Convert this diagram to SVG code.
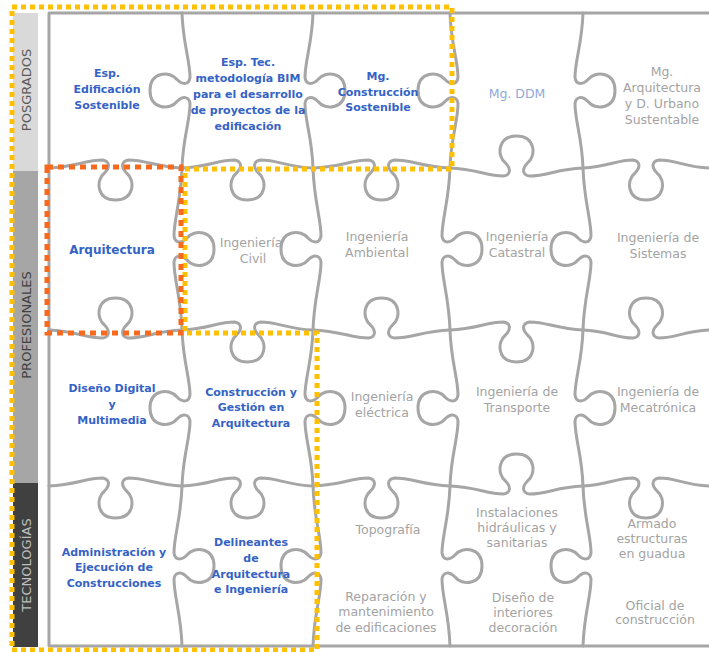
<svg xmlns="http://www.w3.org/2000/svg" width="709" height="652" viewBox="0 0 709 652">
<style>
.edge{fill:none;stroke:#a6a6a6;stroke-width:3;stroke-linecap:round;stroke-linejoin:round}
.b{font-family:"DejaVu Sans",sans-serif;font-weight:bold;font-size:11px;fill:#3563c5;text-anchor:middle}
.g{font-family:"DejaVu Sans",sans-serif;font-size:12.5px;fill:#a3a3a3;text-anchor:middle}
.side{font-family:"DejaVu Sans",sans-serif;font-size:13px;text-anchor:middle}
.yel{fill:none;stroke:#ffc000;stroke-width:5;stroke-dasharray:5 4}
.ora{fill:none;stroke:#f7691c;stroke-width:5;stroke-dasharray:6 5}
</style>
<rect width="709" height="652" fill="#ffffff"/>

<g id="side-bars">
  <g id="bar-posgrados">
    <rect x="13" y="13" width="25" height="158" fill="#d9d9d9"/>
    <text class="side" fill="#595959" transform="translate(30.5,90) rotate(-90)">POSGRADOS</text>
  </g>
  <g id="bar-profesionales">
    <rect x="13" y="171" width="25" height="312" fill="#a6a6a6"/>
    <text class="side" fill="#404040" transform="translate(30.5,325) rotate(-90)">PROFESIONALES</text>
  </g>
  <g id="bar-tecnologias">
    <rect x="13" y="483" width="25" height="164" fill="#404040"/>
    <text class="side" fill="#bfbfbf" transform="translate(30.5,565) rotate(-90)">TECNOLOGÍAS</text>
  </g>
</g>

<g id="puzzle-lines">
  <path class="edge" d="M49,13 H709 M49,646 H709 M49,13 V646"/>
  <!-- horizontal boundaries -->
  <path class="edge" d="M49,168 c26.6,-1 36.5,-8 53.5,-8 c7,1 8,7 2,13 c-9,7 -8,27 11,27 c19,0 20,-20 11,-27 c-6,-6 -5,-12 2,-13 c18,0 26.9,7 53.5,8
   c26.2,-1 35.5,-8 52.5,-8 c7,1 8,7 2,13 c-9,7 -8,27 11,27 c19,0 20,-20 11,-27 c-6,-6 -5,-12 2,-13 c18,0 26.3,7 52.5,8
   c27.4,-1 38.5,-8 55.5,-8 c7,1 8,7 2,13 c-9,7 -8,27 11,27 c19,0 20,-20 11,-27 c-6,-6 -5,-12 2,-13 c18,0 28.1,7 55.5,8
   c26.6,1 36.5,8 53.5,8 c7,-1 8,-7 2,-13 c-9,-7 -8,-27 11,-27 c19,0 20,20 11,27 c-6,6 -5,12 2,13 c18,0 26.9,-7 53.5,-8
   c25.2,-1 33,-8 50,-8 c7,1 8,7 2,13 c-9,7 -8,27 11,27 c19,0 20,-20 11,-27 c-6,-6 -5,-12 2,-13 c18,0 24.8,7 50,8"/>
  <path class="edge" d="M49,330 c26.6,1 36.5,8 53.5,8 c7,-1 8,-7 2,-13 c-9,-7 -8,-27 11,-27 c19,0 20,20 11,27 c-6,6 -5,12 2,13 c18,0 26.9,-7 53.5,-8
   c26.2,-1 35.5,-8 52.5,-8 c7,1 8,7 2,13 c-9,7 -8,27 11,27 c19,0 20,-20 11,-27 c-6,-6 -5,-12 2,-13 c18,0 26.3,7 52.5,8
   c27.4,1 38.5,8 55.5,8 c7,-1 8,-7 2,-13 c-9,-7 -8,-27 11,-27 c19,0 20,20 11,27 c-6,6 -5,12 2,13 c18,0 28.1,-7 55.5,-8
   c26.6,-1 36.5,-8 53.5,-8 c7,1 8,7 2,13 c-9,7 -8,27 11,27 c19,0 20,-20 11,-27 c-6,-6 -5,-12 2,-13 c18,0 26.9,7 53.5,8
   c25.2,1 33,8 50,8 c7,-1 8,-7 2,-13 c-9,-7 -8,-27 11,-27 c19,0 20,20 11,27 c-6,6 -5,12 2,13 c18,0 24.8,-7 50,-8"/>
  <path class="edge" d="M49,486 c26.6,-1 36.5,-8 53.5,-8 c7,1 8,7 2,13 c-9,7 -8,27 11,27 c19,0 20,-20 11,-27 c-6,-6 -5,-12 2,-13 c18,0 26.9,7 53.5,8
   c26.2,-1 35.5,-8 52.5,-8 c7,1 8,7 2,13 c-9,7 -8,27 11,27 c19,0 20,-20 11,-27 c-6,-6 -5,-12 2,-13 c18,0 26.3,7 52.5,8
   c27.4,-1 38.5,-8 55.5,-8 c7,1 8,7 2,13 c-9,7 -8,27 11,27 c19,0 20,-20 11,-27 c-6,-6 -5,-12 2,-13 c18,0 28.1,7 55.5,8
   c26.6,1 36.5,8 53.5,8 c7,-1 8,-7 2,-13 c-9,-7 -8,-27 11,-27 c19,0 20,20 11,27 c-6,6 -5,12 2,13 c18,0 26.9,-7 53.5,-8
   c25.2,-1 33,-8 50,-8 c7,1 8,7 2,13 c-9,7 -8,27 11,27 c19,0 20,-20 11,-27 c-6,-6 -5,-12 2,-13 c18,0 24.8,7 50,8"/>
  <!-- vertical boundaries -->
  <path class="edge" d="M182,13 c1,31 8,47.5 8,64.5 c-1,7 -7,8 -13,2 c-7,-9 -27,-8 -27,11 c0,19 20,20 27,11 c6,-6 12,-5 13,2 c0,18 -7,33.5 -8,64.5
   c-1,32.4 -8,51 -8,68 c1,7 7,8 13,2 c7,-9 27,-8 27,11 c0,19 -20,20 -27,11 c-6,-6 -12,-5 -13,2 c0,18 7,35.6 8,68
   c1,31.2 8,48 8,65 c-1,7 -7,8 -13,2 c-7,-9 -27,-8 -27,11 c0,19 20,20 27,11 c6,-6 12,-5 13,2 c0,18 -7,33.8 -8,65
   c-1,32 -8,50 -8,67 c1,7 7,8 13,2 c7,-9 27,-8 27,11 c0,19 -20,20 -27,11 c-6,-6 -12,-5 -13,2 c0,18 7,35 8,67"/>
  <path class="edge" d="M313,13 c-1,31 -8,47.5 -8,64.5 c1,7 7,8 13,2 c7,-9 27,-8 27,11 c0,19 -20,20 -27,11 c-6,-6 -12,-5 -13,2 c0,18 7,33.5 8,64.5
   c1,32.4 8,51 8,68 c-1,7 -7,8 -13,2 c-7,-9 -27,-8 -27,11 c0,19 20,20 27,11 c6,-6 12,-5 13,2 c0,18 -7,35.6 -8,68
   c-1,31.2 -8,48 -8,65 c1,7 7,8 13,2 c7,-9 27,-8 27,11 c0,19 -20,20 -27,11 c-6,-6 -12,-5 -13,2 c0,18 7,33.8 8,65
   c1,32 8,50 8,67 c-1,7 -7,8 -13,2 c-7,-9 -27,-8 -27,11 c0,19 20,20 27,11 c6,-6 12,-5 13,2 c0,18 -7,35 -8,67"/>
  <path class="edge" d="M450,13 c1,31 8,47.5 8,64.5 c-1,7 -7,8 -13,2 c-7,-9 -27,-8 -27,11 c0,19 20,20 27,11 c6,-6 12,-5 13,2 c0,18 -7,33.5 -8,64.5
   c-1,32.4 -8,51 -8,68 c1,7 7,8 13,2 c7,-9 27,-8 27,11 c0,19 -20,20 -27,11 c-6,-6 -12,-5 -13,2 c0,18 7,35.6 8,68
   c1,31.2 8,48 8,65 c-1,7 -7,8 -13,2 c-7,-9 -27,-8 -27,11 c0,19 20,20 27,11 c6,-6 12,-5 13,2 c0,18 -7,33.8 -8,65
   c-1,32 -8,50 -8,67 c1,7 7,8 13,2 c7,-9 27,-8 27,11 c0,19 -20,20 -27,11 c-6,-6 -12,-5 -13,2 c0,18 7,35 8,67"/>
  <path class="edge" d="M583,13 c-1,31 -8,47.5 -8,64.5 c1,7 7,8 13,2 c7,-9 27,-8 27,11 c0,19 -20,20 -27,11 c-6,-6 -12,-5 -13,2 c0,18 7,33.5 8,64.5
   c1,32.4 8,51 8,68 c-1,7 -7,8 -13,2 c-7,-9 -27,-8 -27,11 c0,19 20,20 27,11 c6,-6 12,-5 13,2 c0,18 -7,35.6 -8,68
   c-1,31.2 -8,48 -8,65 c1,7 7,8 13,2 c7,-9 27,-8 27,11 c0,19 -20,20 -27,11 c-6,-6 -12,-5 -13,2 c0,18 7,33.8 8,65
   c1,32 8,50 8,67 c-1,7 -7,8 -13,2 c-7,-9 -27,-8 -27,11 c0,19 20,20 27,11 c6,-6 12,-5 13,2 c0,18 -7,35 -8,67"/>
</g>

<g id="piece-esp-edificacion"><text class="b"><tspan x="107" y="77">Esp.</tspan><tspan x="107" y="93">Edificación</tspan><tspan x="107" y="109">Sostenible</tspan></text></g>
<g id="piece-esp-bim"><text class="b"><tspan x="248" y="66">Esp. Tec.</tspan><tspan x="248" y="82">metodología BIM</tspan><tspan x="248" y="98">para el desarrollo</tspan><tspan x="248" y="114">de proyectos de la</tspan><tspan x="248" y="130">edificación</tspan></text></g>
<g id="piece-mg-construccion"><text class="b"><tspan x="378" y="80">Mg.</tspan><tspan x="378" y="96">Construcción</tspan><tspan x="378" y="111">Sostenible</tspan></text></g>
<g id="piece-mg-ddm"><text class="g" x="517" y="98" style="fill:#8eaadb">Mg. DDM</text></g>
<g id="piece-mg-arquitectura"><text class="g"><tspan x="662" y="76">Mg.</tspan><tspan x="662" y="92">Arquitectura</tspan><tspan x="662" y="108">y D. Urbano</tspan><tspan x="662" y="124">Sustentable</tspan></text></g>

<g id="piece-arquitectura"><text class="b" x="112" y="254" style="font-size:12px">Arquitectura</text></g>
<g id="piece-ing-civil"><text class="g"><tspan x="251" y="247">Ingeniería</tspan><tspan x="253" y="263">Civil</tspan></text></g>
<g id="piece-ing-ambiental"><text class="g"><tspan x="377" y="241">Ingeniería</tspan><tspan x="377" y="257">Ambiental</tspan></text></g>
<g id="piece-ing-catastral"><text class="g"><tspan x="517" y="241">Ingeniería</tspan><tspan x="517" y="257">Catastral</tspan></text></g>
<g id="piece-ing-sistemas"><text class="g"><tspan x="658" y="242">Ingeniería de</tspan><tspan x="658" y="258">Sistemas</tspan></text></g>

<g id="piece-diseno-digital"><text class="b"><tspan x="112" y="392">Diseño Digital</tspan><tspan x="112" y="408">y</tspan><tspan x="112" y="424">Multimedia</tspan></text></g>
<g id="piece-construccion-gestion"><text class="b"><tspan x="251" y="396">Construcción y</tspan><tspan x="251" y="411">Gestión en</tspan><tspan x="251" y="427">Arquitectura</tspan></text></g>
<g id="piece-ing-electrica"><text class="g"><tspan x="382" y="401">Ingeniería</tspan><tspan x="382" y="417">eléctrica</tspan></text></g>
<g id="piece-ing-transporte"><text class="g"><tspan x="517" y="396">Ingeniería de</tspan><tspan x="517" y="412">Transporte</tspan></text></g>
<g id="piece-ing-mecatronica"><text class="g"><tspan x="658" y="396">Ingeniería de</tspan><tspan x="658" y="412">Mecatrónica</tspan></text></g>

<g id="piece-administracion"><text class="b"><tspan x="114" y="556">Administración y</tspan><tspan x="114" y="571">Ejecución de</tspan><tspan x="114" y="587">Construcciones</tspan></text></g>
<g id="piece-delineantes"><text class="b"><tspan x="251" y="546">Delineantes</tspan><tspan x="251" y="562">de</tspan><tspan x="251" y="578">Arquitectura</tspan><tspan x="251" y="593">e Ingeniería</tspan></text></g>
<g id="piece-topografia-reparacion"><text class="g"><tspan x="388" y="534">Topografía</tspan></text><text class="g"><tspan x="386" y="601">Reparación y</tspan><tspan x="386" y="616">mantenimiento</tspan><tspan x="386" y="632">de edificaciones</tspan></text></g>
<g id="piece-instalaciones-diseno"><text class="g"><tspan x="517" y="517">Instalaciones</tspan><tspan x="517" y="532">hidráulicas y</tspan><tspan x="517" y="547">sanitarias</tspan></text><text class="g"><tspan x="523" y="602">Diseño de</tspan><tspan x="523" y="617">interiores</tspan><tspan x="523" y="632">decoración</tspan></text></g>
<g id="piece-armado-oficial"><text class="g"><tspan x="652" y="528">Armado</tspan><tspan x="652" y="543">estructuras</tspan><tspan x="652" y="558">en guadua</tspan></text><text class="g"><tspan x="655" y="610">Oficial de</tspan><tspan x="655" y="624">construcción</tspan></text></g>

<g id="highlights">
  <path class="yel" d="M12,7 H452 V169 H185 V333 H317 V650 H12 Z"/>
  <rect class="ora" x="47" y="167" width="134" height="166"/>
</g>
</svg>
